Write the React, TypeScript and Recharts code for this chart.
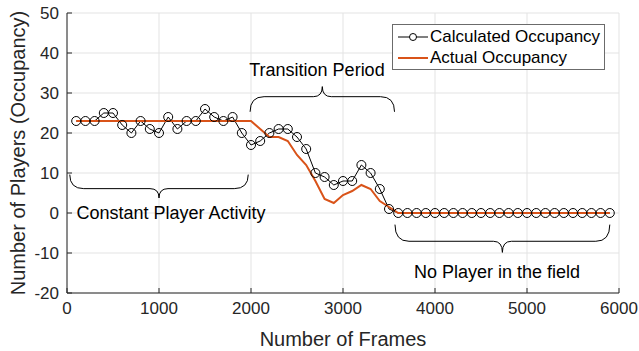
import React from "react";
import {
    LineChart,
    Line,
    XAxis,
    YAxis,
    CartesianGrid,
    Legend,
    ReferenceArea,
    ReferenceDot,
} from "recharts";

const FONT = '"Liberation Sans", Arial, Helvetica, sans-serif';
const ORANGE = "#D95319";
const AXIS = "#262626";

// frame index of every sample
const frames = [
    100, 200, 300, 400, 500, 600, 700, 800, 900, 1000,
    1100, 1200, 1300, 1400, 1500, 1600, 1700, 1800, 1900, 2000,
    2100, 2200, 2300, 2400, 2500, 2600, 2700, 2800, 2900, 3000,
    3100, 3200, 3300, 3400, 3500, 3600, 3700, 3800, 3900, 4000,
    4100, 4200, 4300, 4400, 4500, 4600, 4700, 4800, 4900, 5000,
    5100, 5200, 5300, 5400, 5500, 5600, 5700, 5800, 5900,
];

const calculated = [
    23, 23, 23, 25, 25, 22, 20, 23, 21, 20,
    24, 21, 23, 23, 26, 24, 23, 24, 20, 17,
    18, 20, 21, 21, 19, 16, 10, 9, 7, 8,
    8, 12, 10, 6, 1, 0, 0, 0, 0, 0,
    0, 0, 0, 0, 0, 0, 0, 0, 0, 0,
    0, 0, 0, 0, 0, 0, 0, 0, 0,
];

const actual = [
    23, 23, 23, 23, 23, 23, 23, 23, 23, 23,
    23, 23, 23, 23, 23, 23, 23, 23, 23, 23,
    21, 19, 19, 18, 14.5, 12, 8, 3.5, 2.5, 4.5,
    5.5, 7, 6, 3, 1.5, 0, 0, 0, 0, 0,
    0, 0, 0, 0, 0, 0, 0, 0, 0, 0,
    0, 0, 0, 0, 0, 0, 0, 0, 0,
];

const xTicks = [0, 1000, 2000, 3000, 4000, 5000, 6000];
const yTicks = [-20, -10, 0, 10, 20, 30, 40, 50];

// phase brackets: span in frames, y of the two ends and of the tip
const braces = [
    {x1: 30, x2: 1970, ends: 9.6, tip: 3.75},
    {x1: 1990, x2: 3560, ends: 25.3, tip: 31.6},
    {x1: 3565, x2: 5900, ends: -2.9, tip: -9.85},
];

const notes = [
    {x: 1130, y: -1.4, text: "Constant Player Activity"},
    {x: 2717, y: 34.3, text: "Transition Period"},
    {x: 4674, y: -16.2, text: "No Player in the field"},
];

const data = frames.map((frame, i) => ({
    frame,
    calculated: calculated[i],
    actual: actual[i],
}));

const bracePath = (x: number, y: number, w: number, h: number, tipUp: boolean) => {
    const yEnd = tipUp ? y + h : y;
    const yTip = tipUp ? y : y + h;
    const yFlat = yEnd + (yTip - yEnd) * 0.6;
    const xc = x + w / 2;
    const rE = 14;
    const rC = 9;
    return `M${x},${yEnd} Q${x},${yFlat} ${x + rE},${yFlat} L${xc - rC},${yFlat} Q${xc},${yFlat} ${xc},${yTip} Q${xc},${yFlat} ${xc + rC},${yFlat} L${x + w - rE},${yFlat} Q${x + w},${yFlat} ${x + w},${yEnd}`;
};

const YLabel = ({viewBox}: any) => {
    const cx = viewBox.x + 25;
    const cy = viewBox.y + viewBox.height / 2;
    return (
        <text
            x={cx}
            y={cy}
            transform={`rotate(-90, ${cx}, ${cy})`}
            textAnchor="middle"
            fontSize={20}
            fontFamily={FONT}
            fill={AXIS}
        >
            Number of Players (Occupancy)
        </text>
    );
};

const LegendBox = () => (
    <div
        style={{
            border: "1px solid #6b6b6b",
            background: "#fff",
            padding: "1px 4px 1px 5px",
            fontFamily: FONT,
            fontSize: 17,
            color: "#000",
            lineHeight: "21px",
        }}
    >
        <div style={{display: "flex", alignItems: "center"}}>
            <svg width={32} height={21}>
                <line x1={0} y1={11} x2={30} y2={11} stroke="#000" strokeWidth={1}/>
                <circle cx={15} cy={11} r={3.5} fill="#fff" stroke="#000" strokeWidth={1}/>
            </svg>
            <span>Calculated Occupancy</span>
        </div>
        <div style={{display: "flex", alignItems: "center"}}>
            <svg width={32} height={21}>
                <line x1={0} y1={11} x2={30} y2={11} stroke={ORANGE} strokeWidth={2}/>
            </svg>
            <span>Actual Occupancy</span>
        </div>
    </div>
);

const App = () => {
    const tick = {fontSize: 17, fill: AXIS, fontFamily: FONT};
    return (
        <div style={{position: "absolute", left: 0, top: 0}}>
            <LineChart
                width={639}
                height={351}
                data={data}
                margin={{top: 13, right: 20, left: 0, bottom: 0}}
            >
                <CartesianGrid stroke="#e3e3e3" strokeWidth={1}/>
                <XAxis
                    dataKey="frame"
                    type="number"
                    domain={[0, 6000]}
                    ticks={xTicks}
                    height={58}
                    tick={tick}
                    tickSize={-5}
                    tickMargin={14}
                    stroke={AXIS}
                    label={{
                        value: "Number of Frames",
                        position: "insideBottom",
                        offset: 5,
                        fontSize: 20,
                        fill: AXIS,
                        fontFamily: FONT,
                    }}
                />
                <YAxis
                    type="number"
                    domain={[-20, 50]}
                    ticks={yTicks}
                    width={67}
                    tick={tick}
                    tickSize={-5}
                    tickMargin={13}
                    stroke={AXIS}
                    label={<YLabel/>}
                />
                <Legend
                    layout="vertical"
                    align="center"
                    verticalAlign="middle"
                    wrapperStyle={{left: 392, top: 24, width: "auto"}}
                    content={() => <LegendBox/>}
                />
                {braces.map((b, i) => (
                    <ReferenceArea
                        key={`brace-${i}`}
                        x1={b.x1}
                        x2={b.x2}
                        y1={Math.min(b.ends, b.tip)}
                        y2={Math.max(b.ends, b.tip)}
                        shape={(p: any) => (
                            <path
                                d={bracePath(p.x, p.y, p.width, p.height, b.tip > b.ends)}
                                fill="none"
                                stroke="#000"
                                strokeWidth={1}
                            />
                        )}
                    />
                ))}
                {notes.map((n, i) => (
                    <ReferenceDot
                        key={`note-${i}`}
                        x={n.x}
                        y={n.y}
                        shape={(p: any) => (
                            <text
                                x={p.cx}
                                y={p.cy}
                                textAnchor="middle"
                                fontSize={18}
                                fontFamily={FONT}
                                fill="#000"
                            >
                                {n.text}
                            </text>
                        )}
                    />
                ))}
                <Line
                    type="linear"
                    dataKey="calculated"
                    stroke="#000"
                    strokeWidth={1}
                    dot={{r: 4.5, stroke: "#000", strokeWidth: 1, fill: "none"}}
                    activeDot={false}
                    isAnimationActive={false}
                />
                <Line
                    type="linear"
                    dataKey="actual"
                    stroke={ORANGE}
                    strokeWidth={2}
                    dot={false}
                    activeDot={false}
                    isAnimationActive={false}
                />
            </LineChart>
        </div>
    );
};

export default App;
